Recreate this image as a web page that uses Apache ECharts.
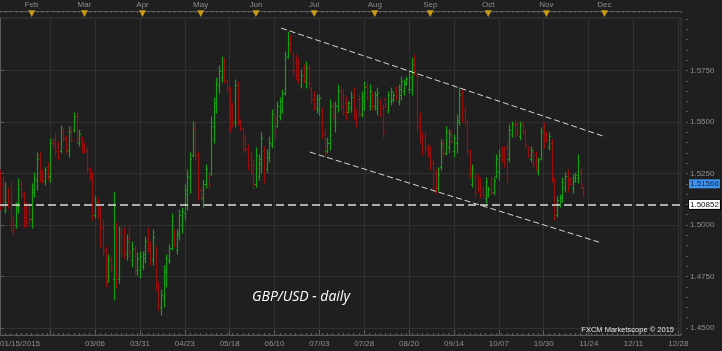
<!DOCTYPE html>
<html><head><meta charset="utf-8">
<script src="https://cdn.jsdelivr.net/npm/echarts@6/dist/echarts.min.js"></script>
<style>html,body{margin:0;padding:0;background:#1f1f1f;}#c{width:722px;height:351px;}</style>
</head><body><div id="c"></div>
<script>
// ---- data ----
const slotCount = 259; // trading-day slots on the x axis (data + future space)
const monthIdx = [12, 32, 54, 76, 97, 119, 142, 163, 185, 207, 229];
const monthNames = ['Feb','Mar','Apr','May','Jun','Jul','Aug','Sep','Oct','Nov','Dec'];
const dateIdx = [0, 36, 53, 70, 87, 104, 121, 138, 155, 172, 189, 206, 223, 240, 257];
const dateLabels = ['01/15/2015','03/06','03/31','04/23','05/18','06/10','07/03','07/28','08/20','09/14','10/07','10/30','11/24','12/11','12/28'];
const gridIdx = [19, 36, 53, 70, 87, 104, 121, 138, 155, 172, 189, 206, 223, 240, 257];
const yTicks = [1.45, 1.475, 1.5, 1.525, 1.55, 1.575];
const supportLevel = 1.50852;
const lastPrice = 1.51566;
const upperChannel = [[106.5, 1.5956], [228.4, 1.5432]];
const lowerChannel = [[117.4, 1.5354], [226.9, 1.4917]];
// daily bars: [open, close, low, high]
const ohlc = [
[1.5240,1.5110,1.5073,1.5267],[1.5200,1.5120,1.5087,1.5233],[1.5075,1.5111,1.5058,1.5204],[1.5150,1.5095,1.5080,1.5180],
[1.5110,1.5000,1.4966,1.5210],[1.5020,1.4975,1.4952,1.5039],[1.5000,1.5090,1.4985,1.5107],[1.5080,1.5180,1.5058,1.5223],
[1.5200,1.5150,1.5131,1.5218],[1.5140,1.5040,1.4990,1.5160],[1.5080,1.5010,1.4990,1.5107],[1.5070,1.5030,1.5010,1.5097],
[1.5030,1.5170,1.4985,1.5199],[1.5160,1.5230,1.5136,1.5252],[1.5220,1.5320,1.5170,1.5350],[1.5330,1.5240,1.5209,1.5354],
[1.5255,1.5220,1.5204,1.5267],[1.5215,1.5265,1.5194,1.5277],[1.5280,1.5235,1.5218,1.5301],[1.5240,1.5400,1.5209,1.5417],
[1.5410,1.5385,1.5374,1.5422],[1.5400,1.5360,1.5340,1.5442],[1.5380,1.5330,1.5316,1.5403],[1.5360,1.5455,1.5350,1.5480],
[1.5455,1.5420,1.5403,1.5466],[1.5420,1.5370,1.5350,1.5432],[1.5360,1.5450,1.5330,1.5476],[1.5455,1.5415,1.5403,1.5476],
[1.5460,1.5530,1.5451,1.5544],[1.5530,1.5420,1.5398,1.5553],[1.5400,1.5440,1.5383,1.5461],[1.5410,1.5370,1.5350,1.5427],
[1.5385,1.5360,1.5350,1.5398],[1.5360,1.5270,1.5257,1.5374],[1.5270,1.5230,1.5218,1.5277],[1.5240,1.5050,1.5024,1.5257],
[1.5050,1.5110,1.5034,1.5136],[1.5110,1.5060,1.5034,1.5131],[1.5060,1.4920,1.4893,1.5087],[1.4990,1.4880,1.4854,1.5024],
[1.4880,1.4720,1.4699,1.4893],[1.4730,1.4830,1.4723,1.4854],[1.4830,1.4790,1.4772,1.4845],[1.4740,1.4950,1.4636,1.5160],
[1.4950,1.4740,1.4694,1.5010],[1.4740,1.4960,1.4718,1.4990],[1.4960,1.4880,1.4845,1.4985],[1.4950,1.4870,1.4840,1.4985],
[1.4860,1.4920,1.4830,1.4951],[1.4930,1.4870,1.4845,1.4990],[1.4830,1.4890,1.4796,1.4917],[1.4880,1.4780,1.4757,1.4898],
[1.4780,1.4840,1.4757,1.4864],[1.4780,1.4850,1.4743,1.4869],[1.4800,1.4860,1.4782,1.4869],[1.4840,1.4920,1.4816,1.4942],
[1.4930,1.4880,1.4869,1.4985],[1.4890,1.4830,1.4806,1.4917],[1.4830,1.4940,1.4806,1.4976],[1.4880,1.4700,1.4684,1.4893],
[1.4700,1.4610,1.4587,1.4723],[1.4600,1.4660,1.4563,1.4684],[1.4650,1.4780,1.4602,1.4801],[1.4770,1.4840,1.4699,1.4854],
[1.4830,1.4890,1.4815,1.4903],[1.4890,1.5020,1.4879,1.5053],[1.4960,1.4910,1.4893,1.4976],[1.4880,1.4960,1.4859,1.4976],
[1.4950,1.5050,1.4927,1.5073],[1.5000,1.5070,1.4961,1.5082],[1.5060,1.5170,1.5024,1.5194],[1.5150,1.5240,1.5073,1.5267],
[1.5230,1.5320,1.5155,1.5350],[1.5340,1.5470,1.5330,1.5500],[1.5470,1.5340,1.5316,1.5495],[1.5340,1.5150,1.5121,1.5354],
[1.5170,1.5135,1.5121,1.5179],[1.5130,1.5200,1.5087,1.5218],[1.5200,1.5270,1.5179,1.5291],[1.5240,1.5200,1.5179,1.5252],
[1.5250,1.5500,1.5243,1.5524],[1.5480,1.5590,1.5398,1.5617],[1.5580,1.5690,1.5544,1.5713],[1.5680,1.5750,1.5641,1.5772],
[1.5720,1.5790,1.5694,1.5815],[1.5790,1.5710,1.5689,1.5810],[1.5700,1.5660,1.5641,1.5704],[1.5660,1.5480,1.5451,1.5670],
[1.5560,1.5500,1.5476,1.5592],[1.5500,1.5680,1.5476,1.5704],[1.5680,1.5500,1.5485,1.5694],[1.5505,1.5470,1.5461,1.5510],
[1.5465,1.5370,1.5354,1.5471],[1.5420,1.5370,1.5350,1.5437],[1.5370,1.5290,1.5267,1.5388],[1.5330,1.5260,1.5243,1.5354],
[1.5290,1.5200,1.5179,1.5316],[1.5200,1.5340,1.5184,1.5374],[1.5240,1.5320,1.5218,1.5340],[1.5300,1.5420,1.5252,1.5447],
[1.5360,1.5230,1.5204,1.5379],[1.5270,1.5350,1.5257,1.5364],[1.5330,1.5400,1.5306,1.5427],[1.5390,1.5540,1.5374,1.5558],
[1.5520,1.5450,1.5422,1.5534],[1.5480,1.5580,1.5476,1.5597],[1.5530,1.5600,1.5510,1.5617],[1.5560,1.5640,1.5544,1.5655],
[1.5640,1.5810,1.5631,1.5840],[1.5820,1.5880,1.5811,1.5936],[1.5890,1.5850,1.5835,1.5922],[1.5830,1.5750,1.5728,1.5835],
[1.5790,1.5730,1.5704,1.5825],[1.5780,1.5710,1.5689,1.5810],[1.5680,1.5730,1.5665,1.5752],[1.5760,1.5700,1.5689,1.5777],
[1.5700,1.5760,1.5665,1.5791],[1.5760,1.5690,1.5670,1.5777],[1.5660,1.5610,1.5592,1.5670],[1.5630,1.5580,1.5558,1.5646],
[1.5570,1.5610,1.5544,1.5631],[1.5560,1.5615,1.5534,1.5631],[1.5560,1.5440,1.5422,1.5568],[1.5440,1.5350,1.5330,1.5461],
[1.5360,1.5400,1.5350,1.5422],[1.5400,1.5580,1.5364,1.5607],[1.5580,1.5530,1.5510,1.5592],[1.5500,1.5580,1.5451,1.5597],
[1.5580,1.5650,1.5548,1.5679],[1.5650,1.5580,1.5558,1.5670],[1.5620,1.5550,1.5534,1.5655],[1.5590,1.5530,1.5510,1.5621],
[1.5550,1.5590,1.5544,1.5597],[1.5570,1.5620,1.5548,1.5646],[1.5630,1.5530,1.5510,1.5665],[1.5540,1.5500,1.5476,1.5558],
[1.5610,1.5540,1.5524,1.5631],[1.5540,1.5620,1.5524,1.5646],[1.5600,1.5670,1.5558,1.5694],[1.5670,1.5620,1.5607,1.5689],
[1.5580,1.5650,1.5558,1.5679],[1.5630,1.5580,1.5558,1.5641],[1.5580,1.5630,1.5558,1.5646],[1.5570,1.5640,1.5534,1.5665],
[1.5600,1.5540,1.5524,1.5607],[1.5570,1.5450,1.5427,1.5583],[1.5610,1.5580,1.5568,1.5617],[1.5560,1.5630,1.5544,1.5646],
[1.5600,1.5650,1.5583,1.5665],[1.5610,1.5630,1.5597,1.5641],[1.5660,1.5620,1.5607,1.5670],[1.5600,1.5660,1.5583,1.5679],
[1.5630,1.5700,1.5607,1.5718],[1.5650,1.5690,1.5631,1.5704],[1.5685,1.5710,1.5679,1.5718],[1.5660,1.5720,1.5641,1.5743],
[1.5660,1.5780,1.5631,1.5811],[1.5800,1.5750,1.5728,1.5825],[1.5730,1.5480,1.5461,1.5738],[1.5520,1.5420,1.5398,1.5544],
[1.5430,1.5360,1.5340,1.5447],[1.5430,1.5370,1.5350,1.5451],[1.5380,1.5350,1.5330,1.5388],[1.5370,1.5290,1.5267,1.5379],
[1.5300,1.5180,1.5160,1.5316],[1.5250,1.5180,1.5155,1.5267],[1.5180,1.5250,1.5165,1.5277],[1.5280,1.5390,1.5267,1.5413],
[1.5400,1.5350,1.5330,1.5413],[1.5350,1.5450,1.5340,1.5476],[1.5380,1.5440,1.5350,1.5461],[1.5450,1.5410,1.5398,1.5461],
[1.5360,1.5420,1.5330,1.5437],[1.5400,1.5510,1.5350,1.5534],[1.5500,1.5630,1.5485,1.5665],[1.5640,1.5520,1.5500,1.5655],
[1.5560,1.5500,1.5485,1.5573],[1.5500,1.5360,1.5340,1.5510],[1.5350,1.5250,1.5228,1.5364],[1.5200,1.5270,1.5184,1.5291],
[1.5240,1.5160,1.5136,1.5252],[1.5230,1.5180,1.5160,1.5243],[1.5210,1.5150,1.5131,1.5228],[1.5175,1.5145,1.5136,1.5184],
[1.5130,1.5210,1.5107,1.5228],[1.5145,1.5175,1.5136,1.5184],[1.5220,1.5160,1.5146,1.5233],[1.5160,1.5215,1.5146,1.5228],
[1.5240,1.5320,1.5228,1.5340],[1.5260,1.5340,1.5218,1.5364],[1.5370,1.5320,1.5306,1.5379],[1.5360,1.5300,1.5282,1.5379],
[1.5380,1.5230,1.5204,1.5398],[1.5320,1.5460,1.5306,1.5485],[1.5440,1.5490,1.5427,1.5500],[1.5490,1.5440,1.5427,1.5510],
[1.5490,1.5450,1.5437,1.5500],[1.5430,1.5485,1.5413,1.5500],[1.5490,1.5450,1.5437,1.5500],[1.5450,1.5390,1.5374,1.5461],
[1.5370,1.5345,1.5330,1.5379],[1.5320,1.5365,1.5306,1.5379],[1.5355,1.5300,1.5282,1.5364],[1.5340,1.5280,1.5267,1.5354],
[1.5260,1.5310,1.5243,1.5325],[1.5320,1.5450,1.5316,1.5471],[1.5460,1.5390,1.5374,1.5495],[1.5440,1.5415,1.5403,1.5451],
[1.5380,1.5430,1.5364,1.5447],[1.5400,1.5230,1.5209,1.5413],[1.5220,1.5040,1.5024,1.5228],[1.5050,1.5120,1.5039,1.5136],
[1.5100,1.5135,1.5087,1.5146],[1.5130,1.5210,1.5111,1.5228],[1.5180,1.5240,1.5160,1.5252],[1.5240,1.5180,1.5160,1.5267],
[1.5220,1.5200,1.5194,1.5228],[1.5180,1.5230,1.5155,1.5243],[1.5215,1.5245,1.5209,1.5252],[1.5230,1.5310,1.5204,1.5340],
[1.5260,1.5200,1.5179,1.5277],[1.5180,1.5157,1.5136,1.5184]
];

// ---- styling / build ----
const Y_MIN = 1.4466, Y_MAX = 1.6005;
const GREEN = '#12a012', RED = '#9a0e0e';
const AXIS_TXT = '#8e8e8e', GRID = '#303030', RULER = '#5a5a5a';
const FONT = 'Liberation Sans';

const slots = [];
for (let i = 0; i < slotCount; i++) slots.push(String(i));
const minorY = [];
for (let k = 0; k <= 30; k++) minorY.push(+(1.45 + k * 0.005).toFixed(3));
const barData = ohlc.map((d, i) => [i, d[0], d[1], d[2], d[3]]);

function renderOHLC(params, api) {
  const i = api.value(0);
  const o = api.coord([i, api.value(1)]);
  const c = api.coord([i, api.value(2)]);
  const l = api.coord([i, api.value(3)]);
  const h = api.coord([i, api.value(4)]);
  const x = Math.round(o[0]) + 0.5;
  const color = api.value(2) >= api.value(1) ? GREEN : RED;
  const st = { stroke: color, lineWidth: 1.2 };
  return { type: 'group', children: [
    { type: 'line', shape: { x1: x, y1: h[1] - 0.5, x2: x, y2: l[1] + 0.5 }, style: st },
    { type: 'line', shape: { x1: x - 1.5, y1: Math.round(o[1]) + 0.5, x2: x, y2: Math.round(o[1]) + 0.5 }, style: st },
    { type: 'line', shape: { x1: x, y1: Math.round(c[1]) + 0.5, x2: x + 1.5, y2: Math.round(c[1]) + 0.5 }, style: st }
  ]};
}

const chart = echarts.init(document.getElementById('c'), null, { renderer: 'canvas' });
chart.setOption({
  animation: false,
  backgroundColor: '#1f1f1f',
  textStyle: { fontFamily: FONT },
  title: [
    { text: 'GBP/USD - daily', left: 247, top: 285,
      textStyle: { color: '#ffffff', fontStyle: 'italic', fontWeight: 'normal', fontSize: 14, fontFamily: 'Open Sans' } },
    { text: 'FXCM Marketscope © 2015', right: 43, top: 321,
      textStyle: { color: '#e6e6e6', fontWeight: 'normal', fontSize: 7.5, fontFamily: FONT } }
  ],
  grid: { left: 0, right: 41, top: 18, bottom: 16, show: true, borderColor: '#3a3a3a', borderWidth: 1,
    containLabel: false, outerBoundsMode: 'none' },
  xAxis: [
    { type: 'category', data: slots, boundaryGap: false, position: 'bottom',
      axisLine: { show: true, lineStyle: { color: RULER } },
      axisTick: { show: true, inside: true, length: 5, interval: (i) => gridIdx.includes(i), lineStyle: { color: RULER } },
      axisLabel: { show: true, interval: (i) => dateIdx.includes(i), formatter: (v, i) => dateLabels[dateIdx.indexOf(i)] || '',
        color: AXIS_TXT, fontSize: 8, margin: 5, alignMinLabel: 'left', fontFamily: FONT },
      splitLine: { show: true, interval: (i) => gridIdx.includes(i), lineStyle: { color: GRID } } },
    { type: 'category', data: slots, boundaryGap: false, position: 'bottom',
      axisLine: { show: false },
      axisTick: { show: true, inside: true, length: 2, interval: (i) => i % 2 === 0, lineStyle: { color: RULER } },
      axisLabel: { show: false }, splitLine: { show: false } },
    { type: 'category', data: slots, boundaryGap: false, position: 'top', offset: 7,
      axisLine: { show: true, lineStyle: { color: RULER } },
      axisTick: { show: true, inside: true, length: 2, interval: (i) => i % 2 === 0, lineStyle: { color: RULER } },
      axisLabel: { show: true, interval: (i) => monthIdx.includes(i), margin: -6,
        formatter: (v, i) => { const k = monthIdx.indexOf(i); return k >= 0 ? '{m|' + monthNames[k] + '}\n{t|▼}' : ''; },
        rich: { m: { color: AXIS_TXT, fontSize: 8, lineHeight: 10, fontFamily: FONT },
                t: { color: '#c99a16', fontSize: 9, lineHeight: 7, fontFamily: 'DejaVu Sans' } } },
      splitLine: { show: false } },
    { type: 'value', min: 0, max: slotCount - 1, show: false }
  ],
  yAxis: [
    { type: 'value', min: Y_MIN, max: Y_MAX, position: 'right', offset: 5, scale: true,
      axisLine: { show: true, lineStyle: { color: RULER } },
      axisTick: { show: true, length: 4, customValues: yTicks, lineStyle: { color: RULER } },
      axisLabel: { show: true, customValues: yTicks, formatter: (v) => v.toFixed(4), color: AXIS_TXT, fontSize: 8, margin: 4, fontFamily: FONT },
      splitLine: { show: true, lineStyle: { color: GRID } } },
    { type: 'value', min: Y_MIN, max: Y_MAX, position: 'right', offset: 5, scale: true,
      axisLine: { show: false },
      axisTick: { show: true, length: 2, customValues: minorY, lineStyle: { color: RULER } },
      axisLabel: { show: false }, splitLine: { show: false } }
  ],
  series: [
    { type: 'custom', name: 'GBP/USD', xAxisIndex: 0, yAxisIndex: 0, data: barData,
      encode: { x: 0, y: [1, 2, 3, 4] }, renderItem: renderOHLC, clip: true, silent: true },
    { type: 'line', xAxisIndex: 3, yAxisIndex: 0, data: upperChannel, symbol: 'none', silent: true,
      lineStyle: { color: '#cfe0c8', width: 1, type: [6, 3] } },
    { type: 'line', xAxisIndex: 3, yAxisIndex: 0, data: lowerChannel, symbol: 'none', silent: true,
      lineStyle: { color: '#cfe0c8', width: 1, type: [6, 3] },
      markLine: { silent: true, symbol: 'none', animation: false,
        data: [
          { yAxis: supportLevel, lineStyle: { color: '#dcdcdc', width: 1.6, type: [8, 4] },
            label: { show: true, position: 'end', distance: 8, formatter: supportLevel.toFixed(5), color: '#111', backgroundColor: '#ffffff',
              borderColor: '#000', borderWidth: 1, padding: [1, 1, 0, 1], fontSize: 8, fontFamily: FONT } },
          { yAxis: lastPrice, lineStyle: { color: 'rgba(0,0,0,0)', width: 0 },
            label: { show: true, position: 'end', distance: 8, formatter: lastPrice.toFixed(5), color: '#10204a', backgroundColor: '#3d95f0',
              padding: [1, 1, 0, 1], fontSize: 8, fontFamily: FONT } }
        ] } }
  ]
});
</script></body></html>
